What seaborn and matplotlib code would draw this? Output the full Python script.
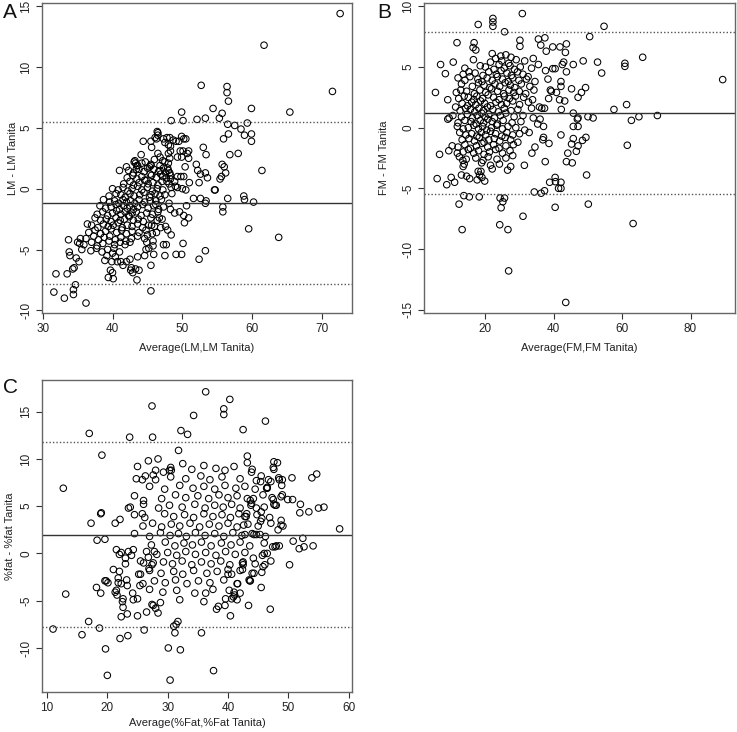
import matplotlib
matplotlib.use("Agg")
import matplotlib.pyplot as plt
import pandas as pd
import seaborn as sns

# ---------------- Panel A: lean mass ----------------
lm_points = [
    (72.6, 14.4), (61.7, 11.8), (71.5, 8.0), (65.4, 6.3), (52.7, 8.5), (56.4, 8.4), (56.4, 7.9), (56.6, 7.2),
    (54.4, 6.6), (59.9, 6.6), (49.9, 6.3), (50.1, 5.6), (48.4, 5.6), (52.1, 5.7), (53.3, 5.8), (55.3, 5.8),
    (55.7, 6.2), (56.5, 5.3), (57.5, 5.2), (58.4, 4.9), (59.3, 5.4), (56.6, 4.5), (58.9, 4.4), (59.9, 4.5),
    (59.9, 3.9), (55.9, 4.1), (53.0, 3.4), (53.4, 2.8), (56.8, 2.8), (58.0, 2.9), (61.4, 1.5),
    (46.5, 4.6), (46.5, 4.4), (46.3, 4.1), (45.5, 3.9), (45.6, 3.4), (47.3, 4.1), (48.2, 4.2), (48.7, 4.0),
    (49.1, 3.9), (49.9, 4.3), (50.2, 4.1), (50.5, 4.1), (48.3, 3.5), (48.3, 3.1), (50.1, 3.1), (50.9, 3.1),
    (50.7, 2.9), (49.9, 2.6), (49.3, 2.6), (50.9, 2.5), (44.1, 2.8),
    (50.4, 1.8), (52.0, 2.0), (52.2, 1.5), (52.6, 1.2), (53.6, 0.9), (53.3, 1.3), (55.7, 2.0), (56.0, 1.8),
    (56.2, 1.3), (55.6, 1.0), (55.4, 0.8), (54.6, -0.1), (54.7, -0.1), (51.0, 0.5), (52.4, 0.5), (50.2, 1.0),
    (51.6, -0.8), (52.6, -0.8), (53.4, -1.0), (53.3, -1.2), (56.5, -0.8), (58.8, -0.6), (58.9, -0.9), (60.2, -1.1),
    (55.8, -1.5), (55.8, -1.9), (50.6, -1.4), (48.3, -1.7), (48.9, -2.0), (49.6, -1.9), (50.2, -2.2), (50.9, -2.4),
    (50.3, -2.8), (59.5, -3.3), (63.8, -4.0),
    (53.3, -5.1), (52.4, -5.8), (50.1, -4.5), (49.1, -5.4), (49.9, -5.4), (48.4, -3.8), (47.6, -3.1), (47.9, -3.4),
    (47.3, -4.6), (47.7, -4.6), (47.5, -5.5), (45.5, -6.3), (45.5, -8.4), (45.8, -4.7), (45.8, -4.3), (45.2, -4.9),
    (44.8, -5.0), (44.9, -4.4), (45.9, -5.4),
    (31.6, -8.5), (31.9, -7.0), (33.1, -9.0), (33.5, -7.0), (33.7, -4.2), (33.8, -5.2), (33.9, -5.5), (34.3, -6.6),
    (34.5, -6.5), (34.4, -8.3), (34.4, -8.7), (34.7, -7.9), (34.8, -5.7), (35.2, -6.0), (35.3, -4.5), (35.4, -4.1),
    (35.6, -5.0), (35.0, -4.4), (36.2, -9.4), (36.4, -2.9),
    (38.9, -5.9), (39.2, -5.5), (39.4, -7.3), (39.7, -6.7), (40.0, -6.9), (40.1, -7.4), (40.0, -5.3), (39.9, -6.0),
    (40.4, -5.6), (40.7, -6.0), (40.0, 0.0), (41.2, -6.0), (41.5, -6.3), (42.0, -6.0), (42.5, -5.8), (42.7, -6.5),
    (42.6, -6.7), (42.9, -6.9), (43.3, -6.6), (43.5, -7.5), (43.6, -5.6), (43.8, -6.7),
    (41.0, 1.5), (42.0, 1.8), (42.3, 1.5), (43.1, 2.2), (43.3, 2.1), (43.5, 1.9), (43.4, 1.6), (44.7, 2.2),
    (45.0, 1.7), (45.5, 1.9), (45.5, 2.0), (44.4, 3.9), (46.1, 4.2), (46.4, 4.7), (47.5, 3.8), (47.8, 4.2),
    (48.0, 3.6), (49.5, 3.9), (49.7, 3.1), (48.0, 2.9), (48.2, 2.5), (48.0, 2.1), (46.5, 2.9), (46.8, 2.6),
    (47.2, 2.3), (46.8, 1.5), (47.2, 1.0), (47.6, 1.3), (48.2, 1.3), (48.3, 1.1), (48.3, 0.8), (47.8, 0.6),
    (48.9, 0.6), (49.3, 1.0), (49.8, 1.0), (49.3, 0.1), (50.0, 0.0), (50.5, -0.1),
    (45.5, -0.5), (46.2, -1.0), (46.7, -2.4), (47.1, -2.5), (46.9, -3.2), (48.1, -1.2), (48.5, -0.4), (49.0, 0.2),
    (44.6, -5.5), (45.0, -3.8), (45.6, -3.0), (46.3, -3.6),
    (43.2, 2.3), (43.6, 1.9), (44.2, 2.1), (45.3, 1.8), (46.0, 2.4), (46.8, 1.9), (47.5, 2.2), (47.9, 1.7),
    (43.0, 1.3), (43.8, 1.6), (44.5, 1.4), (45.4, 1.2), (45.9, 1.6), (46.6, 1.4), (47.3, 1.7), (48.0, 1.5),
    (42.1, 0.9), (42.9, 1.1), (43.5, 0.8), (44.2, 1.0), (44.8, 0.7), (45.6, 1.1), (46.3, 0.9), (46.9, 1.2), (47.7, 0.9),
    (41.6, 0.4), (42.5, 0.6), (43.0, 0.3), (43.8, 0.5), (44.6, 0.7), (45.1, 0.4), (45.8, 0.5), (46.5, 0.3), (47.1, 0.6), (48.1, 0.4),
    (40.8, -0.1), (41.5, 0.1), (42.2, -0.2), (42.8, 0.0), (43.6, 0.2), (44.2, -0.1), (45.0, 0.1), (45.7, -0.2),
    (46.4, 0.0), (47.2, -0.1), (48.4, 0.1),
    (39.5, -0.6), (40.5, -0.4), (41.2, -0.5), (41.8, -0.7), (42.5, -0.4), (43.1, -0.6), (43.9, -0.5), (44.5, -0.3),
    (45.3, -0.7), (46.1, -0.4), (46.8, -0.6), (47.5, -0.5),
    (38.7, -0.9), (39.6, -1.1), (40.3, -1.0), (40.9, -1.2), (41.5, -0.9), (42.0, -1.1), (42.6, -1.0), (43.2, -1.2),
    (43.8, -0.9), (44.6, -1.1), (45.4, -1.0), (46.2, -1.3), (47.0, -0.9),
    (38.2, -1.4), (39.0, -1.6), (39.8, -1.5), (40.5, -1.3), (41.0, -1.7), (41.6, -1.4), (42.1, -1.6), (42.5, -1.4),
    (43.0, -1.7), (43.6, -1.5), (44.3, -1.3), (45.1, -1.6), (45.9, -1.4), (46.6, -1.7), (47.3, -1.5),
    (37.8, -2.1), (38.6, -1.9), (39.3, -2.2), (40.0, -2.0), (40.6, -1.8), (41.2, -2.1), (41.8, -1.9), (42.3, -2.2),
    (42.8, -2.0), (43.4, -1.9), (44.1, -2.2), (44.9, -2.0), (45.7, -2.1), (46.5, -1.9),
    (37.5, -2.4), (38.3, -2.6), (39.1, -2.5), (39.8, -2.7), (40.5, -2.4), (41.1, -2.6), (41.7, -2.5), (42.4, -2.3),
    (43.0, -2.6), (43.7, -2.5), (44.4, -2.7), (45.5, -2.4), (46.4, -2.6),
    (37.0, -3.0), (37.9, -3.2), (38.7, -2.9), (39.4, -3.1), (40.1, -3.0), (40.8, -2.8), (41.4, -3.2), (42.1, -3.0),
    (42.8, -3.1), (43.6, -2.9), (44.3, -3.2), (45.2, -3.0), (46.0, -3.1),
    (36.6, -3.6), (37.5, -3.4), (38.3, -3.7), (39.0, -3.5), (39.8, -3.3), (40.6, -3.6), (41.3, -3.4), (42.0, -3.7),
    (42.8, -3.5), (43.8, -3.6), (44.8, -3.4), (45.7, -3.7),
    (36.2, -4.1), (37.3, -3.9), (38.0, -4.2), (38.8, -4.0), (39.6, -3.9), (40.4, -4.2), (41.2, -4.0), (41.9, -4.3),
    (42.7, -4.1), (43.6, -3.9), (44.6, -4.1),
    (35.9, -4.6), (37.0, -4.4), (37.8, -4.7), (38.6, -4.5), (39.5, -4.3), (40.3, -4.6), (41.1, -4.4), (41.8, -4.6), (42.5, -4.4),
    (36.9, -5.1), (37.7, -4.9), (38.5, -5.2), (39.3, -5.0), (40.2, -4.9), (41.0, -5.2),
]
lm_mean, lm_upper, lm_lower = -1.15, 5.47, -7.80

# ---------------- Panel B: fat mass ----------------
fm_points = [
    (54.7, 8.35), (50.5, 7.5), (43.7, 6.9), (43.4, 6.2), (42.9, 5.4), (42.5, 5.2), (43.7, 4.6), (45.7, 5.2),
    (48.6, 5.5), (52.8, 5.4), (54.0, 4.5), (60.8, 5.3), (60.8, 5.05), (66.0, 5.8), (42.1, 3.8), (42.1, 3.4),
    (45.2, 3.2), (47.1, 2.5), (48.1, 2.9), (49.3, 3.3), (43.2, 2.2), (42.2, 1.5), (57.6, 1.5), (61.3, 1.9),
    (62.7, 0.6), (64.9, 0.9), (70.3, 1.0), (89.4, 3.96), (45.7, 1.2), (47.1, 0.8), (46.9, 0.7), (50.0, 0.9),
    (51.5, 0.8), (45.7, 0.1), (47.1, 0.1), (42.1, -0.6), (45.7, -0.9), (45.2, -1.35), (47.1, -1.5), (48.4, -1.05),
    (49.4, -0.8), (46.6, -1.95), (44.1, -2.1), (43.7, -2.8), (45.4, -2.9), (49.6, -3.9), (42.1, -4.5), (42.1, -5.0),
    (61.5, -1.45), (50.1, -6.3), (63.2, -7.9), (43.5, -14.4),
    (30.8, 9.4), (22.2, 9.0), (22.2, 8.7), (22.2, 8.35), (17.9, 8.5), (25.6, 7.9), (37.4, 7.4), (35.5, 7.3),
    (30.1, 7.2), (30.1, 6.7), (11.7, 7.0), (16.7, 7.0), (16.4, 6.6), (17.2, 6.4), (36.2, 6.8), (39.7, 6.65),
    (41.8, 6.65), (37.8, 6.3), (39.7, 4.86), (40.4, 4.86), (37.6, 4.7), (38.3, 4.0), (40.8, 2.9), (41.7, 2.3),
    (40.4, -4.1), (40.5, -4.45), (41.4, -5.0), (38.8, -4.5), (40.4, -6.56), (37.3, -5.2), (36.3, -5.4), (34.3, -5.3),
    (26.8, -11.8), (31.0, -7.3), (26.6, -8.4), (24.2, -8.0), (24.6, -6.6), (25.1, -6.1), (24.3, -5.8), (25.6, -5.8),
    (13.2, -8.4), (12.3, -6.3), (13.7, -5.6), (15.3, -5.7), (18.2, -5.7), (17.6, -4.3), (18.3, -3.9), (18.7, -3.6),
    (19.0, -4.1), (19.8, -4.4), (15.4, -4.2), (14.5, -4.0), (13.0, -3.9), (5.9, -4.2), (8.7, -4.7), (10.0, -4.1),
    (11.0, -4.5), (6.6, -2.2), (5.4, 2.9), (6.9, 5.2), (8.3, 4.45), (9.0, 2.3), (9.4, 0.8), (9.0, 0.7),
    (10.6, 5.4), (11.3, 1.7), (13.5, -3.2), (13.4, -2.7), (38.5, 2.4), (39.0, 3.1), (39.3, 3.0), (36.5, 1.6),
    (37.3, 1.6), (35.8, 1.7), (37.0, -0.8), (36.8, -1.0), (36.0, 0.7), (35.3, 0.3), (38.6, -1.3), (37.5, -2.8),
    (34.5, -1.6), (33.6, -2.1), (31.4, -3.1), (32.8, -0.4),
    (22.0, 6.1), (24.5, 5.9), (26.0, 6.0), (27.5, 5.8),
    (16.5, 5.6), (21.5, 5.4), (23.0, 5.7), (24.8, 5.5), (26.8, 5.3), (29.0, 5.6), (31.5, 5.5), (34.0, 5.7),
    (14.0, 4.9), (18.5, 5.1), (20.0, 5.0), (22.5, 4.8), (24.0, 5.2), (25.5, 4.9), (27.2, 5.1), (28.5, 4.8),
    (30.2, 5.0), (33.5, 4.9), (35.5, 5.2),
    (13.5, 4.4), (15.2, 4.6), (17.0, 4.5), (19.3, 4.3), (21.0, 4.6), (23.2, 4.4), (24.6, 4.7), (26.3, 4.5),
    (27.6, 4.3), (29.4, 4.6), (31.0, 4.4), (32.5, 4.2),
    (12.0, 4.1), (14.0, 3.9), (15.5, 4.2), (17.8, 4.0), (19.0, 3.8), (20.5, 4.1), (22.0, 3.9), (23.5, 4.2),
    (25.0, 4.0), (26.7, 3.8), (28.0, 4.1), (29.8, 3.9), (32.0, 4.0), (34.5, 3.8),
    (13.0, 3.6), (16.2, 3.4), (18.0, 3.7), (19.6, 3.5), (21.3, 3.3), (22.8, 3.6), (24.2, 3.4), (25.8, 3.7),
    (27.3, 3.5), (28.6, 3.3), (30.5, 3.6), (33.0, 3.4),
    (11.5, 2.9), (12.8, 3.1), (14.5, 3.0), (16.8, 2.8), (18.4, 3.1), (20.1, 2.9), (21.8, 3.2), (23.6, 3.0),
    (25.3, 2.8), (26.9, 3.1), (28.3, 2.9), (29.9, 3.0), (31.8, 2.8), (34.2, 3.1),
    (12.2, 2.4), (13.8, 2.6), (15.0, 2.5), (16.6, 2.3), (17.5, 2.6), (19.2, 2.4), (20.8, 2.7), (22.4, 2.5),
    (24.0, 2.3), (25.6, 2.6), (27.0, 2.4), (28.8, 2.6), (31.2, 2.5), (33.8, 2.3),
    (13.2, 2.0), (14.8, 1.8), (16.0, 2.1), (17.2, 1.9), (18.6, 2.2), (19.8, 2.0), (21.5, 1.8), (23.1, 2.1),
    (24.7, 1.9), (26.2, 2.0), (28.0, 2.2), (30.0, 1.9), (32.6, 2.1),
    (12.6, 1.4), (14.2, 1.6), (15.6, 1.5), (16.9, 1.3), (18.1, 1.6), (19.4, 1.4), (20.6, 1.7), (22.2, 1.5),
    (23.8, 1.3), (25.5, 1.6), (27.5, 1.4), (29.5, 1.5), (33.5, 1.6),
    (10.5, 1.0), (13.0, 0.9), (14.7, 1.1), (16.2, 0.8), (17.6, 1.0), (18.9, 1.2), (19.9, 0.9), (21.0, 1.1),
    (22.7, 0.8), (24.4, 1.0), (26.0, 1.2), (28.4, 0.9), (31.0, 1.0), (34.0, 0.8),
    (12.0, 0.4), (14.0, 0.6), (15.8, 0.5), (17.3, 0.3), (18.5, 0.6), (19.5, 0.4), (20.7, 0.7), (22.0, 0.5),
    (23.5, 0.3), (25.2, 0.6), (27.8, 0.4), (30.4, 0.5),
    (11.8, 0.1), (13.5, -0.1), (15.0, 0.0), (16.6, 0.2), (18.0, -0.1), (19.2, 0.1), (20.4, -0.2), (21.8, 0.0),
    (23.3, 0.2), (25.0, -0.1), (26.6, 0.1), (28.9, 0.0), (31.5, -0.2), (37.0, 0.1),
    (12.5, -0.4), (14.3, -0.6), (16.0, -0.5), (17.5, -0.7), (18.8, -0.4), (20.1, -0.6), (21.5, -0.3), (23.0, -0.5),
    (24.8, -0.7), (26.3, -0.4), (28.0, -0.6), (30.0, -0.5),
    (13.2, -1.0), (15.2, -0.9), (16.8, -1.1), (18.2, -0.8), (19.6, -1.2), (21.0, -1.0), (22.6, -0.9), (24.2, -1.1),
    (25.8, -0.8), (27.4, -1.0), (29.5, -1.2),
    (10.3, -1.5), (12.0, -1.6), (14.0, -1.4), (15.6, -1.7), (17.4, -1.5), (19.0, -1.3), (20.7, -1.6), (22.4, -1.4),
    (24.0, -1.7), (26.0, -1.5), (28.2, -1.4),
    (9.3, -1.9), (11.8, -2.1), (13.5, -2.0), (15.0, -1.8), (16.6, -2.1), (18.0, -1.9), (19.6, -2.2), (21.2, -2.0),
    (23.0, -1.8), (25.0, -2.1), (27.2, -1.9),
    (12.4, -2.4), (14.4, -2.6), (17.2, -2.5), (19.3, -2.7), (20.8, -2.4), (23.4, -2.6), (26.0, -2.5), (28.0, -2.3),
    (13.8, -3.0), (18.9, -2.9), (21.5, -3.1), (24.1, -3.0), (27.4, -3.2),
    (17.9, -3.6), (22.0, -3.4), (26.5, -3.5),
]
fm_mean, fm_upper, fm_lower = 1.21, 7.86, -5.44

# ---------------- Panel C: percent fat ----------------
pf_points = [
    (58.5, 2.6), (55.9, 4.9), (55.0, 4.8), (54.7, 8.4), (53.9, 8.0), (53.4, 4.4), (54.1, 0.8), (52.4, 1.6),
    (52.6, 0.7), (52.0, 5.2), (51.9, 4.3), (51.8, 0.5), (50.8, 1.3), (50.6, 8.0), (50.7, 5.7), (49.9, 5.7),
    (50.2, -1.2), (49.1, 2.9), (48.8, 3.5), (49.0, 6.2), (48.8, 6.0), (49.0, 7.8), (48.9, 7.2), (48.4, 8.0),
    (48.5, 0.8), (48.0, 0.8), (47.8, 0.7), (47.4, 0.7), (48.2, 9.6), (47.6, 9.7), (47.6, 8.9), (48.0, 5.1),
    (47.8, 5.1), (47.5, 5.7), (47.1, 7.6), (46.7, 7.8), (46.5, 6.9), (46.4, 6.9), (46.2, 14.0), (48.3, 2.5),
    (47.1, 3.2), (47.0, -5.9), (47.1, -0.8), (46.5, 0.0), (46.0, 0.0), (45.8, -1.4), (46.1, -1.2), (45.6, -2.0),
    (45.5, -3.6), (45.6, 3.7), (45.4, 3.4), (45.3, 2.0), (44.7, 2.0), (44.3, 2.0), (44.7, 4.8), (45.5, 4.4),
    (44.7, 7.7), (45.4, 7.6), (43.9, 8.6), (43.2, 10.3), (43.2, 9.6), (42.5, 13.1), (43.7, 5.6), (43.9, 5.3),
    (44.2, 5.8), (43.1, 4.2), (42.8, 3.9), (42.6, 3.0), (42.8, 2.0), (42.5, -1.2), (42.4, -1.0), (42.4, -1.7),
    (43.5, -2.8), (43.7, -2.9), (44.3, -2.1), (44.2, -0.5), (43.4, -5.5), (41.5, -3.2), (42.0, -4.2), (41.5, -4.9),
    (41.1, -4.4), (40.9, -4.6), (40.6, -4.8), (40.4, -6.6), (40.2, -3.9), (39.5, -5.5), (40.0, -1.7), (40.6, -2.2),
    (40.3, 16.3), (39.3, 15.3), (39.3, 14.7), (36.3, 17.1), (34.3, 14.6), (33.3, 12.6), (32.2, 13.0), (27.4, 15.6),
    (23.7, 12.3), (27.5, 12.3), (17.0, 12.7), (19.1, 10.4), (12.7, 6.9), (13.1, -4.3), (11.0, -8.0), (15.8, -8.6),
    (16.9, -7.2), (18.7, -7.9), (19.7, -10.1), (20.0, -12.9), (22.1, -9.0), (23.4, -8.7), (26.1, -8.1), (30.1, -10.0),
    (30.4, -13.4), (32.1, -10.2), (37.6, -12.4), (35.6, -8.4), (31.2, -8.4), (31.0, -7.7), (31.7, -7.2), (31.4, -7.5),
    (38.1, -5.9), (38.4, -5.6), (36.3, -4.2),
    (18.3, 1.4), (19.6, 1.5), (17.3, 3.2), (18.9, 4.2), (19.0, 4.3), (19.6, -2.9), (19.8, -2.9), (20.1, -3.1),
    (18.2, -3.6), (18.9, -4.2), (21.3, 3.2), (22.1, 3.6), (21.0, -1.7), (21.5, 0.4), (22.0, -0.1), (21.3, -4.1),
    (21.6, -4.4), (22.3, -6.7), (22.6, -5.7), (23.3, -6.4), (22.6, -4.8), (21.8, -2.6), (22.3, -3.2), (23.0, -0.5),
    (23.3, -3.4), (24.3, -4.9), (23.5, 0.2), (24.3, 0.4), (25.0, -6.6), (26.5, -6.2), (27.4, -5.4), (27.6, -5.5),
    (28.0, -5.8), (28.4, -6.3), (25.4, -3.4), (25.2, -2.2), (26.0, -1.0), (26.8, -0.4), (26.9, -1.6), (27.6, -1.0),
    (27.8, 0.2), (23.5, 4.8), (25.8, 7.8), (26.0, 5.6), (25.8, 4.2), (26.8, 9.8), (27.6, 8.3), (28.4, 10.0),
    (29.3, 8.6), (30.3, 8.8), (30.6, 8.8), (31.8, 10.9), (32.5, 9.5),
    (25.0, 9.2), (28.0, 8.8), (30.5, 9.1), (34.0, 8.9), (36.0, 9.3), (38.0, 9.0), (39.5, 8.8), (41.0, 9.2),
    (44.0, 8.9), (47.5, 9.1),
    (24.8, 7.9), (26.3, 8.2), (28.0, 7.8), (30.5, 8.1), (33.0, 7.9), (35.5, 8.2), (37.0, 7.8), (39.0, 8.1),
    (42.0, 7.9), (45.5, 8.2), (48.5, 7.8),
    (27.0, 7.1), (29.5, 6.8), (32.0, 7.2), (34.2, 6.9), (36.0, 7.1), (37.8, 6.8), (39.5, 7.2), (41.3, 6.9),
    (42.8, 7.1), (44.5, 6.8), (46.5, 7.0),
    (24.5, 6.1), (29.0, 5.8), (31.3, 6.2), (33.0, 5.9), (35.0, 6.1), (36.8, 5.8), (38.5, 6.2), (40.0, 5.9),
    (41.5, 6.1), (43.2, 5.8), (45.8, 6.2), (47.3, 5.9),
    (23.8, 4.9), (26.0, 5.2), (28.5, 4.8), (30.3, 5.1), (32.4, 4.9), (34.5, 5.2), (36.2, 4.8), (37.8, 5.1),
    (39.2, 4.9), (40.6, 5.2), (42.0, 4.8), (43.8, 5.1), (46.0, 4.9), (47.6, 5.2),
    (24.5, 4.1), (26.2, 3.8), (29.5, 4.2), (31.0, 3.9), (32.8, 4.1), (34.3, 3.8), (36.0, 4.2), (37.5, 3.9),
    (39.0, 4.1), (40.4, 3.8), (41.8, 4.2), (43.0, 3.9), (44.8, 4.1), (46.9, 3.8),
    (25.9, 2.9), (27.5, 3.2), (29.0, 2.8), (30.6, 3.1), (32.0, 2.9), (33.7, 3.2), (35.3, 2.8), (36.9, 3.1),
    (38.5, 2.9), (40.0, 3.2), (41.5, 2.8), (43.3, 3.1), (45.0, 2.9), (48.8, 3.0),
    (24.5, 2.1), (27.0, 1.8), (28.8, 2.2), (30.4, 1.9), (31.8, 2.1), (33.1, 1.8), (34.6, 2.2), (36.2, 1.9),
    (37.8, 2.1), (39.3, 1.8), (40.8, 2.2), (42.3, 1.9), (44.0, 2.1), (46.2, 1.8),
    (27.3, 0.9), (29.6, 1.2), (31.2, 0.8), (32.7, 1.1), (34.1, 0.9), (35.6, 1.2), (37.2, 0.8), (38.9, 1.1),
    (40.5, 0.9), (42.0, 1.2), (43.6, 0.8), (46.0, 1.1),
    (22.3, 0.1), (24.0, -0.2), (26.5, 0.2), (28.2, -0.1), (30.0, 0.1), (31.5, -0.2), (33.0, 0.2), (34.6, -0.1),
    (36.3, 0.1), (38.0, -0.2), (39.6, 0.2), (41.2, -0.1), (42.8, 0.1), (45.7, -0.2),
    (23.0, -1.1), (25.5, -0.8), (27.4, -1.2), (29.3, -0.9), (30.8, -1.1), (32.4, -0.8), (34.0, -1.2), (35.6, -0.9),
    (37.2, -1.1), (38.8, -0.8), (40.3, -1.2), (42.5, -0.9), (44.5, -1.1),
    (22.0, -1.9), (25.5, -2.2), (27.0, -1.8), (28.9, -2.1), (31.0, -1.9), (32.5, -2.2), (34.3, -1.8), (36.5, -2.1),
    (38.2, -1.9), (40.0, -2.2), (42.0, -1.8), (44.0, -2.1),
    (21.8, -3.1), (23.2, -2.8), (25.9, -3.2), (27.8, -2.9), (29.6, -3.1), (31.3, -2.8), (33.2, -3.2), (35.1, -2.9),
    (37.0, -3.1), (39.3, -2.8), (41.6, -3.2), (43.6, -2.9),
    (21.5, -3.9), (24.2, -4.2), (27.0, -3.8), (29.2, -4.1), (31.5, -3.9), (34.5, -4.2), (37.5, -3.8), (41.0, -4.1),
    (22.5, -5.1), (25.0, -4.8), (28.8, -5.2), (32.0, -4.9), (36.0, -5.1), (39.6, -4.8),
]
pf_mean, pf_upper, pf_lower = 1.97, 11.75, -7.78

# ---------------- labels / ticks ----------------
lm_xticks = [30, 40, 50, 60, 70]
lm_yticks = [-10, -5, 0, 5, 10, 15]
fm_xticks = [20, 40, 60, 80]
fm_yticks = [-15, -10, -5, 0, 5, 10]
pf_xticks = [10, 20, 30, 40, 50, 60]
pf_yticks = [-10, -5, 0, 5, 10, 15]

sns.set_theme(style="white")
plt.rcParams["font.family"] = ["Liberation Sans", "DejaVu Sans"]

fig = plt.figure(figsize=(7.37, 7.32), dpi=100)

panels = [
    dict(points=lm_points, mean=lm_mean, upper=lm_upper, lower=lm_lower,
         pos=[42 / 737, 1 - 313 / 732, 310 / 737, 310 / 732],
         xlim=(29.9, 74.3), ylim=(-10.22, 15.27), xticks=lm_xticks, yticks=lm_yticks,
         xlabel="Average(LM,LM Tanita)", ylabel="LM - LM Tanita", letter="A", lxy=(3, 3),
         xl_y=-0.113, yl_x=-0.094),
    dict(points=fm_points, mean=fm_mean, upper=fm_upper, lower=fm_lower,
         pos=[424 / 737, 1 - 313 / 732, 311 / 737, 310 / 732],
         xlim=(2.05, 93.0), ylim=(-15.27, 10.27), xticks=fm_xticks, yticks=fm_yticks,
         xlabel="Average(FM,FM Tanita)", ylabel="FM - FM Tanita", letter="B", lxy=(377, 3),
         xl_y=-0.113, yl_x=-0.129),
    dict(points=pf_points, mean=pf_mean, upper=pf_upper, lower=pf_lower,
         pos=[42 / 737, 1 - 692 / 732, 310 / 737, 312 / 732],
         xlim=(9.17, 60.55), ylim=(-14.66, 18.35), xticks=pf_xticks, yticks=pf_yticks,
         xlabel="Average(%Fat,%Fat Tanita)", ylabel="%fat - %fat Tanita", letter="C", lxy=(3, 378),
         xl_y=-0.100, yl_x=-0.104),
]

for p in panels:
    ax = fig.add_axes(p["pos"])
    df = pd.DataFrame(p["points"], columns=["avg", "diff"])
    sns.scatterplot(data=df, x="avg", y="diff", ax=ax, marker="o", s=22,
                    facecolor="none", edgecolor="black", linewidth=0.75, legend=False)
    ax.axhline(p["mean"], color="#333333", lw=1.0)
    ax.axhline(p["upper"], color="#555555", lw=1.0, ls=(0, (1, 1.5)))
    ax.axhline(p["lower"], color="#555555", lw=1.0, ls=(0, (1, 1.5)))
    ax.set_xlim(*p["xlim"])
    ax.set_ylim(*p["ylim"])
    ax.set_xticks(p["xticks"])
    ax.set_yticks(p["yticks"])
    ax.set_yticklabels([str(t) for t in p["yticks"]], rotation=90, va="center")
    ax.tick_params(axis="both", direction="out", length=4.5, width=0.8, color="#333333",
                   labelsize=8.5, pad=2.5, labelcolor="#222222", bottom=True, left=True)
    for s in ax.spines.values():
        s.set_color("#666666")
        s.set_linewidth(1.0)
        s.set_visible(True)
    ax.set_xlabel(p["xlabel"], fontsize=8, color="#222222")
    ax.set_ylabel(p["ylabel"], fontsize=8, color="#222222")
    ax.xaxis.label.set_va("center")
    ax.yaxis.label.set_va("center")
    ax.xaxis.set_label_coords(0.5, p["xl_y"])
    ax.yaxis.set_label_coords(p["yl_x"], 0.5)
    lx, ly = p["lxy"]
    fig.text(lx / 737, 1 - ly / 732, p["letter"], fontsize=15, va="top", ha="left", color="#111111")

fig.savefig("out.png", dpi=100)
